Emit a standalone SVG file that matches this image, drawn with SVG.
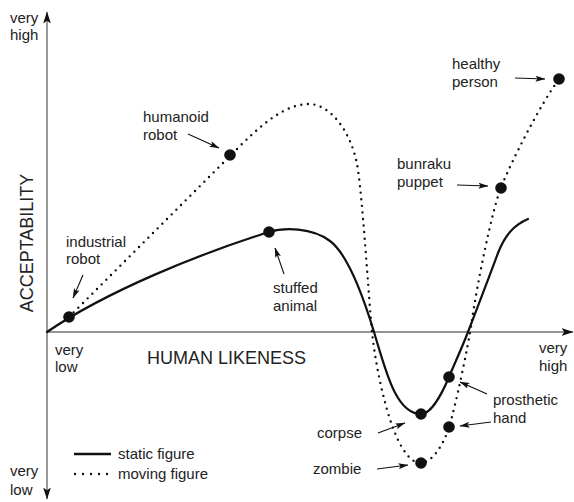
<svg xmlns="http://www.w3.org/2000/svg" width="574" height="502" viewBox="0 0 574 502">
<defs>
<marker id="ax" markerUnits="userSpaceOnUse" markerWidth="12" markerHeight="8" viewBox="0 0 11 7" refX="10.5" refY="3.5" orient="auto-start-reverse"><path d="M0,0 L11,3.5 L0,7 L2.5,3.5 z" fill="#111"/></marker>
<marker id="ar" markerUnits="userSpaceOnUse" markerWidth="10" markerHeight="6" viewBox="0 0 10 6" refX="9.5" refY="3" orient="auto"><path d="M0,0 L10,3 L0,6 L2,3 z" fill="#111"/></marker>
</defs>
<style>
text{font-family:"Liberation Sans",Arial,Helvetica,sans-serif;font-size:15px;fill:#222}
.big{font-size:18px}
.axis{stroke:#707070;stroke-width:1.4;fill:none}
.solid{stroke:#111;stroke-width:2.2;fill:none;stroke-linecap:round}
.dots{stroke:#111;stroke-width:2.4;fill:none;stroke-linecap:round;stroke-dasharray:0 6.6}
.lead{stroke:#111;stroke-width:1.1;fill:none;marker-end:url(#ar)}
.pt{fill:#111}
</style>
<g id="axes">
<line class="axis" x1="47" y1="499" x2="47" y2="12" marker-start="url(#ax)" marker-end="url(#ax)"/>
<line class="axis" x1="47" y1="332" x2="573" y2="332" marker-end="url(#ax)"/>
<text x="10" y="23">very</text><text x="10" y="40">high</text>
<text x="10" y="476">very</text><text x="10" y="495">low</text>
<text class="big" transform="translate(33,243) rotate(-90)" text-anchor="middle">ACCEPTABILITY</text>
<text x="55" y="355">very</text><text x="55" y="372">low</text>
<text class="big" x="147" y="364">HUMAN LIKENESS</text>
<text x="539" y="353">very</text><text x="539" y="371">high</text>
</g>
<g id="curves">
<path id="static-curve" class="solid" d="M47,332 C107,291 199,254 269,232 C284,227.3 312,227.5 330,241 C345,252.25 360,285.8 374,332 C386,371.6 396,414 421,414 C431,414 442,393.8 449,377 C455,362.6 462,347.6 468,332 C478,306 489,277.5 498,253 C505,235 514,225 528,219"/>
<path id="moving-curve" class="dots" d="M69,317 L240,146 C265,121 287,104 309,104 C329,104 350,129 357,164 C362,189 369,302 372,332 C375.5,367 393,463 421,463 C431,463 443,446.5 449,427.3 C455,408.1 468,348 472,320 C477,285 491.7,211.7 500.7,188.3 C510.7,162.3 542,101.3 559,79.3"/>
</g>
<g id="connectors">
<line class="lead" x1="188" y1="134" x2="219" y2="148"/>
<line class="lead" x1="83" y1="275" x2="73" y2="298"/>
<line class="lead" x1="284" y1="274" x2="275" y2="248"/>
<line class="lead" x1="515" y1="78" x2="545" y2="79"/>
<line class="lead" x1="457" y1="185" x2="488" y2="186"/>
<line class="lead" x1="487" y1="394" x2="460" y2="382"/>
<line class="lead" x1="491" y1="422" x2="460" y2="426"/>
<line class="lead" x1="378" y1="433" x2="405" y2="423"/>
<line class="lead" x1="377" y1="469" x2="408" y2="465"/>
</g>
<g id="industrial-robot"><circle class="pt" cx="69" cy="317" r="5.8"/><text x="66" y="247">industrial</text><text x="66" y="264">robot</text></g>
<g id="humanoid-robot"><circle class="pt" cx="230" cy="155" r="5.8"/><text x="143" y="122">humanoid</text><text x="143" y="140">robot</text></g>
<g id="stuffed-animal"><circle class="pt" cx="269" cy="232" r="5.8"/><text x="273" y="293">stuffed</text><text x="273" y="311">animal</text></g>
<g id="healthy-person"><circle class="pt" cx="559" cy="79" r="5.8"/><text x="452" y="69">healthy</text><text x="452" y="87">person</text></g>
<g id="bunraku-puppet"><circle class="pt" cx="501" cy="188" r="5.8"/><text x="397" y="169">bunraku</text><text x="397" y="187">puppet</text></g>
<g id="prosthetic-hand"><circle class="pt" cx="449" cy="377" r="5.8"/><circle class="pt" cx="449" cy="427" r="5.8"/><text x="493" y="405">prosthetic</text><text x="493" y="423">hand</text></g>
<g id="corpse"><circle class="pt" cx="421" cy="414" r="5.8"/><text x="317" y="438">corpse</text></g>
<g id="zombie"><circle class="pt" cx="421" cy="463" r="5.8"/><text x="313" y="474">zombie</text></g>
<g id="legend">
<line class="solid" x1="74" y1="454" x2="111" y2="454" style="stroke-linecap:butt;stroke-width:2.6"/>
<line class="dots" x1="75" y1="474" x2="108" y2="474" style="stroke-dasharray:0 8"/>
<text x="118" y="459">static figure</text>
<text x="118" y="479">moving figure</text>
</g>
</svg>
